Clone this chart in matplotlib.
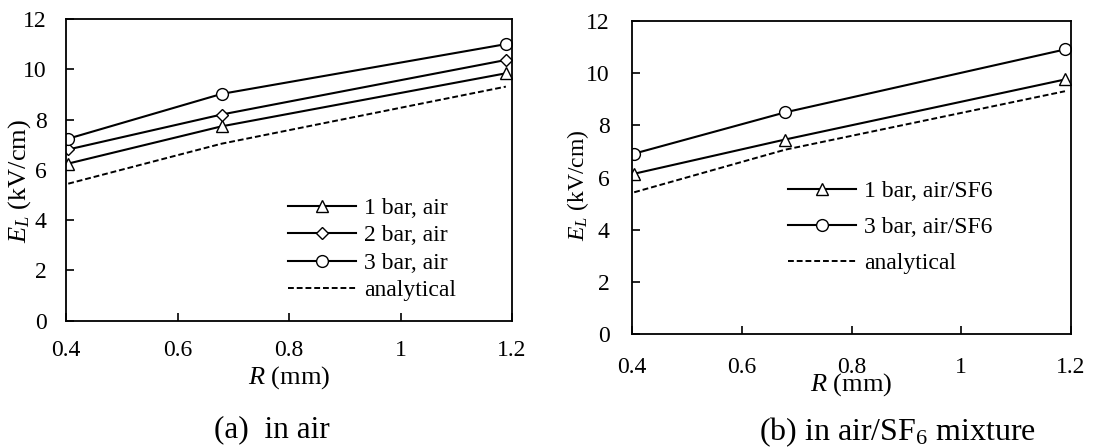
import matplotlib
matplotlib.use("Agg")
import matplotlib.pyplot as plt

plt.rcParams['font.family'] = ['Liberation Serif', 'DejaVu Serif']
plt.rcParams['mathtext.fontset'] = 'custom'
plt.rcParams['mathtext.rm'] = 'Liberation Serif'
plt.rcParams['mathtext.it'] = 'Liberation Serif:italic'

# Panel (a): in air
r_a = [0.404, 0.679, 1.189]
air_1bar = [6.25, 7.73, 9.84]
air_2bar = [6.81, 8.20, 10.37]
air_3bar = [7.24, 9.02, 11.0]
air_analytical = [5.45, 7.04, 9.31]

# Panel (b): in air/SF6 mixture
r_b = [0.404, 0.679, 1.189]
sf6_1bar = [6.15, 7.46, 9.76]
sf6_3bar = [6.92, 8.50, 10.91]
sf6_analytical = [5.44, 7.07, 9.31]

xticks = [0.4, 0.6, 0.8, 1.0, 1.2]
xticklabels = ['0.4', '0.6', '0.8', '1', '1.2']
yticks = [0, 2, 4, 6, 8, 10, 12]

W, H = 1095, 448
fig = plt.figure(figsize=(W / 100, H / 100), dpi=100)

def px_axes(l, t, r, b):
    return fig.add_axes([l / W, 1 - b / H, (r - l) / W, (b - t) / H])

def fx(x):
    return x / W

def fy(y):
    return 1 - y / H

axA = px_axes(66, 19, 512, 320.7)
axB = px_axes(632, 21, 1071, 334.3)

FS = 17
lw = 1.5
mk = dict(markerfacecolor='white', markeredgecolor='black', markeredgewidth=1.0)

axA.plot(r_a, air_1bar, '-', color='black', lw=lw, marker='^', markersize=8, label='1 bar, air', **mk)
axA.plot(r_a, air_2bar, '-', color='black', lw=lw, marker='D', markersize=6, label='2 bar, air', **mk)
axA.plot(r_a, air_3bar, '-', color='black', lw=lw, marker='o', markersize=8.5, label='3 bar, air', **mk)
axA.plot(r_a, air_analytical, '--', color='black', lw=1.4, dashes=(3, 1.5), label='analytical')

axB.plot(r_b, sf6_1bar, '-', color='black', lw=lw, marker='^', markersize=8, label='1 bar, air/SF6', **mk)
axB.plot(r_b, sf6_3bar, '-', color='black', lw=lw, marker='o', markersize=8.5, label='3 bar, air/SF6', **mk)
axB.plot(r_b, sf6_analytical, '--', color='black', lw=1.4, dashes=(3, 1.5), label='analytical')

for ax, xpad, ypad in ((axA, 14, 14), (axB, 16, 16)):
    ax.set_xlim(0.4, 1.2)
    ax.set_ylim(0, 12)
    ax.set_xticks(xticks)
    ax.set_xticklabels(xticklabels)
    ax.set_yticks(yticks)
    ax.tick_params(direction='in', length=6, width=1.2, labelsize=FS)
    ax.tick_params(axis='x', pad=xpad)
    ax.tick_params(axis='y', pad=ypad)
    for s in ax.spines.values():
        s.set_linewidth(1.3)
        s.set_color('black')

# axis labels
fig.text(fx(289), fy(378), '$R$ (mm)', ha='center', va='center', fontsize=19)
fig.text(fx(20), fy(181), '$E_L$ (kV/cm)', ha='center', va='center', rotation=90, fontsize=19)
fig.text(fx(851), fy(385), '$R$ (mm)', ha='center', va='center', fontsize=19)
fig.text(fx(578), fy(185), '$E_L$ (kV/cm)', ha='center', va='center', rotation=90, fontsize=17)

legA = axA.legend(loc='upper left', bbox_to_anchor=(fx(278.5), fy(188)), bbox_transform=fig.transFigure,
                  frameon=False, fontsize=FS, handlelength=2.9, handletextpad=0.34,
                  labelspacing=0.25, borderaxespad=0)
legB = axB.legend(loc='upper left', bbox_to_anchor=(fx(779), fy(171)), bbox_transform=fig.transFigure,
                  frameon=False, fontsize=FS, handlelength=2.85, handletextpad=0.34,
                  labelspacing=0.62, borderaxespad=0)

fig.text(fx(272), fy(430), '(a)  in air', ha='center', va='center', fontsize=22.5)
fig.text(fx(898), fy(432), '(b) in air/SF$_6$ mixture', ha='center', va='center', fontsize=23)

fig.savefig('out.png', dpi=100)
